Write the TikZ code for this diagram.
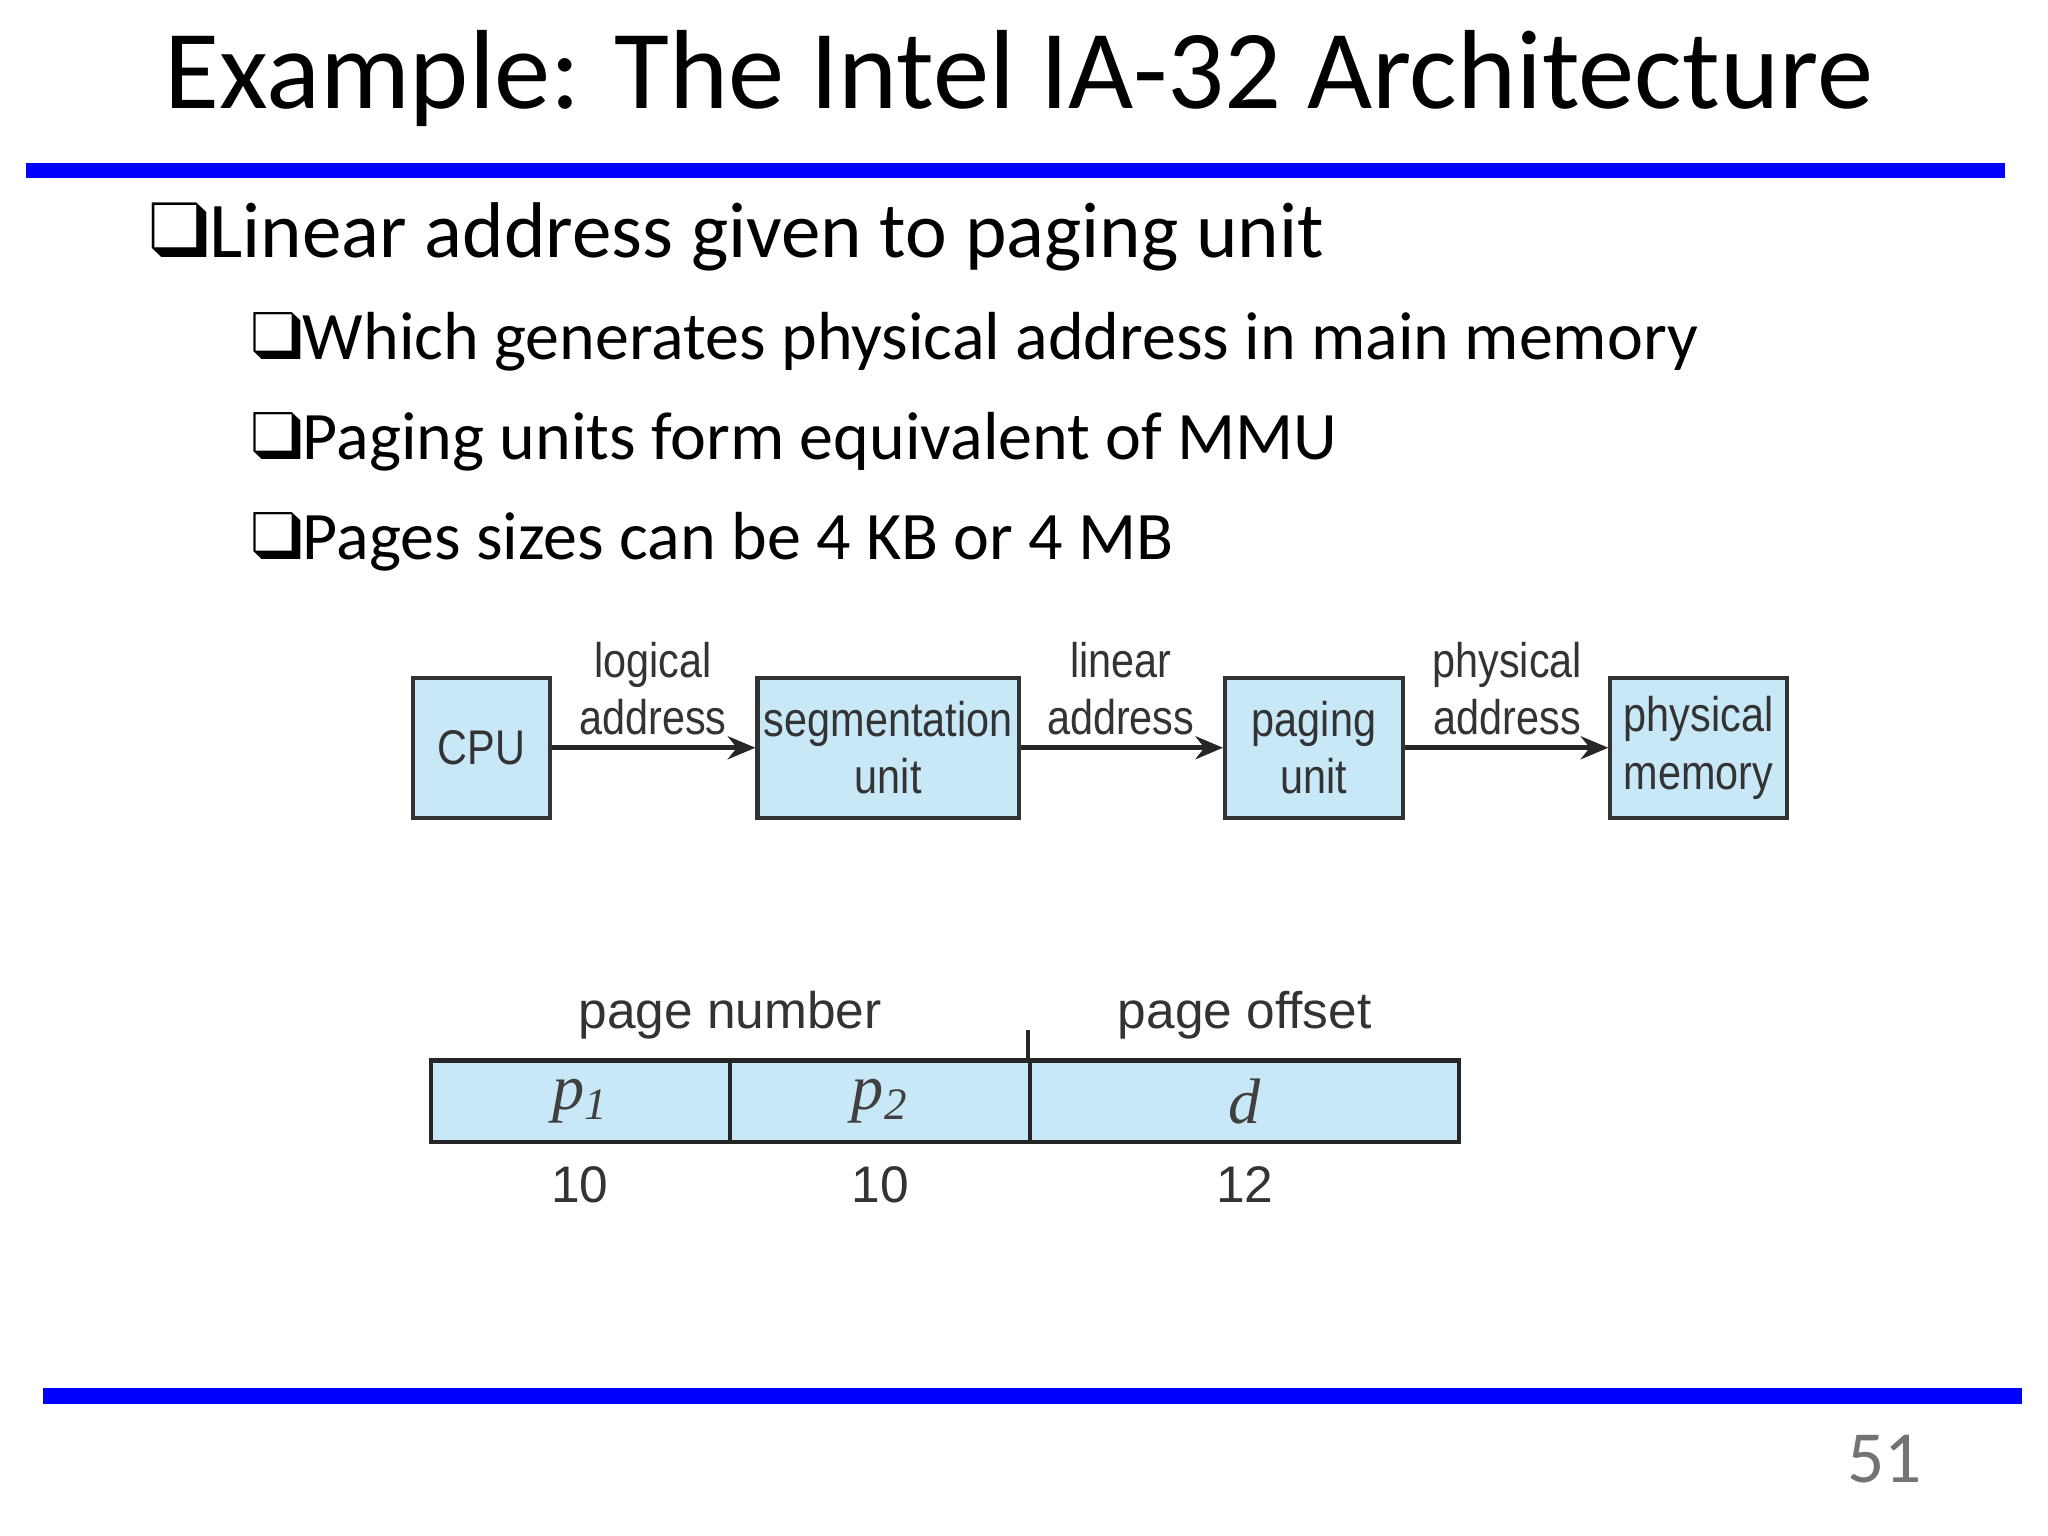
\documentclass[tikz,border=0pt]{standalone}
\usepackage{fontspec}
\setmainfont{Carlito}
\newfontfamily\dsans{Liberation Sans}[FakeStretch=0.85]
\newfontfamily\hsans{Liberation Sans}
\newfontfamily\dserif{Liberation Serif}
\usepackage{pifont}
\usetikzlibrary{arrows.meta}
\definecolor{boxblue}{RGB}{200,232,248}
\definecolor{lineblue}{RGB}{0,0,255}
\begin{document}
\begin{tikzpicture}[x=0.01cm,y=-0.01cm,
  box/.style={draw=black!80,fill=boxblue,line width=0.9pt,inner sep=0pt,font=\dsans\fontsize{10.6}{12.5}\selectfont,align=center,text=black!80,minimum height=1.07cm},
  lbl/.style={font=\dsans\fontsize{10.6}{12.5}\selectfont,align=center,text=black!80},
  arr/.style={-{Stealth[length=6pt,width=5pt]},line width=1pt,draw=black!85},
  field/.style={draw=black!85,fill=boxblue,line width=0.9pt,inner sep=0pt,minimum height=0.62cm,font=\dserif\fontsize{14}{16}\selectfont\itshape,text=black!75},
  sm/.style={font=\hsans\fontsize{11.2}{13}\selectfont,text=black!80}]
\useasboundingbox (0,0) rectangle (1568,1176);
\fill[white] (0,0) rectangle (1568,1176);
\node (title) at (780,60) {\fontsize{24.5}{28}\selectfont Example: The Intel IA-32 Architecture};
\fill[lineblue] (20,125) rectangle (1535,136);
\node[anchor=base west] (b1) at (102,197) {\fontsize{17.2}{20}\selectfont\ding{113}Linear address given to paging unit};
\node[anchor=base west] (b2) at (180,275) {\fontsize{14.8}{18}\selectfont\ding{113}Which generates physical address in main memory};
\node[anchor=base west] (b3) at (180,352) {\fontsize{14.8}{18}\selectfont\ding{113}Paging units form equivalent of MMU};
\node[anchor=base west] (b4) at (180,428) {\fontsize{14.8}{18}\selectfont\ding{113}Pages sizes can be 4 KB or 4 MB};
\node[box,minimum width=1.05cm] (cpu) at (368.5,572.5) {CPU};
\node[box,minimum width=2.0cm] (seg) at (680,572.5) {segmentation\\unit};
\node[box,minimum width=1.36cm] (pag) at (1006,572.5) {paging\\unit};
\node[box,minimum width=1.35cm] (mem) at (1300.5,572.5) {physical\\memory};
\draw[arr] (cpu) -- (seg);
\draw[arr] (seg) -- (pag);
\draw[arr] (pag) -- (mem);
\node[lbl] (l1) at (500,527) {logical\\address};
\node[lbl] (l2) at (858,527) {linear\\address};
\node[lbl] (l3) at (1154,527) {physical\\address};
\node[field,minimum width=2.29cm] (f1) at (444.5,843) {p\textsubscript{1}};
\node[field,minimum width=2.30cm] (f2) at (674,843) {p\textsubscript{2}};
\node[field,minimum width=3.28cm] (f3) at (953,843) {d};
\draw[line width=0.9pt,black!85] (f3.north west) -- ++(0,-22);
\node[sm] (pn) at (559,777) {page number};
\node[sm] (po) at (953,777) {page offset};
\node[sm] (n1) at (444,907) {10};
\node[sm] (n2) at (674,907) {10};
\node[sm] (n3) at (953,907) {12};
\fill[lineblue] (33,1063) rectangle (1548,1075);
\node[text=black!55] (pg) at (1443,1117) {\fontsize{16}{18}\selectfont 51};
\end{tikzpicture}
\end{document}
